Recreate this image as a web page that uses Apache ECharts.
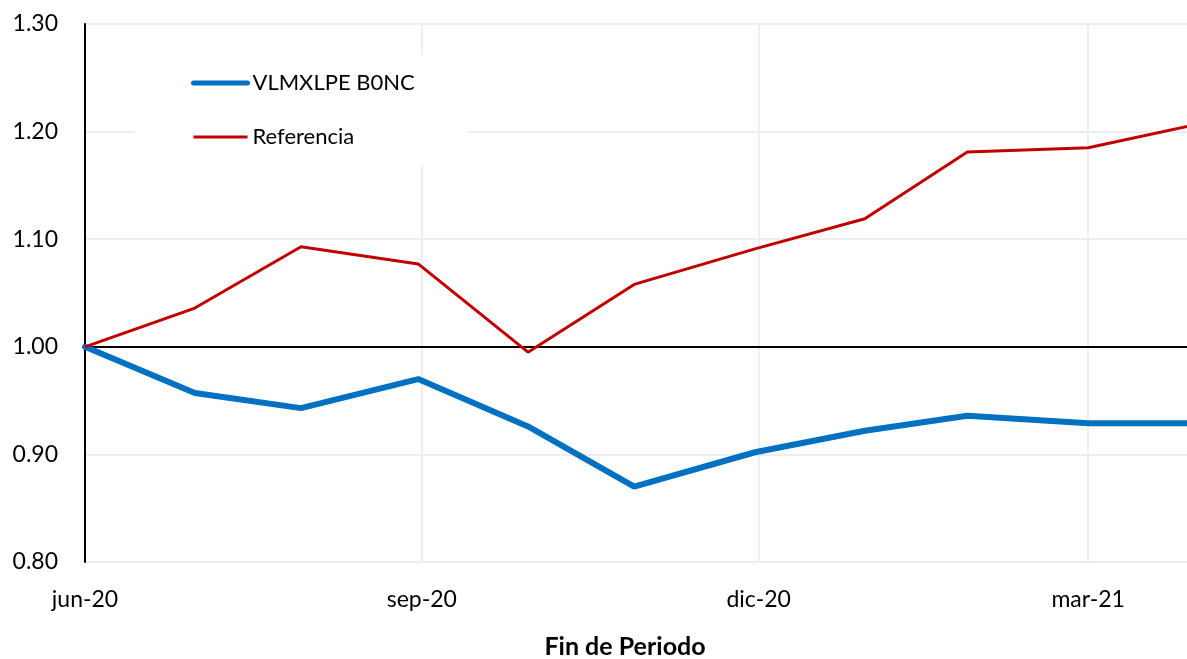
<!DOCTYPE html>
<html>
	<head>
		<meta charset="utf-8" />
		<title>VLMXLPE B0NC vs Referencia</title>
		<script src="https://cdn.jsdelivr.net/npm/echarts@6/dist/echarts.min.js"></script>
		<style>
			html, body { margin: 0; padding: 0; background: #fff; overflow: hidden; }
			#chart { width: 100vw; height: 100vh; }
		</style>
	</head>
	<body>
		<div id="chart"></div>
		<script>
			// fechas de cierre de cada mes
			var fechas = ['2020-06-30', '2020-07-30', '2020-08-28', '2020-09-29', '2020-10-29', '2020-11-27',
				'2020-12-30', '2021-01-29', '2021-02-26', '2021-03-31', '2021-04-30'];
			var fondo = [1.000, 0.957, 0.943, 0.970, 0.926, 0.870, 0.902, 0.922, 0.936, 0.929, 0.929];
			var referencia = [1.000, 1.036, 1.093, 1.077, 0.995, 1.058, 1.091, 1.119, 1.181, 1.185, 1.207];
			var tickFechas = ['2020-06-30', '2020-09-30', '2020-12-31', '2021-03-31'];
			var tickEtiquetas = ['jun-20', 'sep-20', 'dic-20', 'mar-21'];
			// el grafico original esta recortado a la derecha
			var finEje = '2021-04-27';

			var fuente = 'Lato, "Noto Sans", sans-serif';

			// fecha -> milisegundos (eje lineal en el tiempo)
			function ms(f) {
				var p = f.split('-');
				return Date.UTC(+p[0], +p[1] - 1, +p[2]);
			}
			var tickMs = tickFechas.map(ms);

			function etiqueta(v) {
				var i = tickMs.indexOf(v);
				return i >= 0 ? tickEtiquetas[i] : '';
			}

			var chart = echarts.init(document.getElementById('chart'));
			var option = {
				animation: false,
				grid: { left: 85, top: 24, right: 0, bottom: 97, containLabel: false, outerBoundsMode: 'none' },
				legend: {
					orient: 'vertical',
					left: 135,
					top: 55,
					padding: [14, 53, 14, 56],
					backgroundColor: '#fff',
					itemWidth: 54,
					itemHeight: 14,
					itemGap: 26,
					itemStyle: { opacity: 0 },
					textStyle: { fontFamily: fuente, fontSize: 22, color: '#000', lineHeight: 28 },
					data: [
						{ name: 'VLMXLPE B0NC', lineStyle: { width: 5, cap: 'round' } },
						{ name: 'Referencia', lineStyle: { width: 3 } }
					]
				},
				xAxis: {
					type: 'value',
					min: ms(fechas[0]),
					max: ms(finEje),
					name: 'Fin de Periodo',
					nameLocation: 'middle',
					nameGap: 72,
					nameTextStyle: { fontFamily: fuente, fontSize: 25, fontWeight: 'bold', color: '#000', padding: [0, 22, 0, 0] },
					axisLine: { show: false },
					axisTick: { show: false, customValues: tickMs },
					axisLabel: {
						customValues: tickMs,
						formatter: etiqueta,
						margin: 26,
						fontFamily: fuente,
						fontSize: 23,
						color: '#000'
					},
					splitLine: { show: true, lineStyle: { color: '#eeeeee', width: 2 } }
				},
				yAxis: {
					type: 'value',
					min: 0.8,
					max: 1.3,
					interval: 0.1,
					axisLine: { show: true, lineStyle: { color: '#000', width: 2 } },
					axisTick: { show: false },
					axisLabel: {
						margin: 27,
						fontFamily: fuente,
						fontSize: 23,
						color: '#000',
						formatter: function (v) { return v.toFixed(2); }
					},
					splitLine: { show: true, lineStyle: { color: '#eeeeee', width: 2 } }
				},
				series: [
					{
						name: 'VLMXLPE B0NC',
						type: 'line',
						symbol: 'none',
						color: '#0070c0',
						lineStyle: { width: 6, color: '#0070c0', cap: 'round' },
						data: fechas.map(function (f, i) { return [ms(f), fondo[i]]; }),
						markLine: {
							z: 1,
							silent: true,
							symbol: 'none',
							label: { show: false },
							lineStyle: { color: '#000', width: 2, type: 'solid' },
							data: [{ yAxis: 1 }]
						}
					},
					{
						name: 'Referencia',
						type: 'line',
						symbol: 'none',
						color: '#c00000',
						lineStyle: { width: 3, color: '#c00000' },
						data: fechas.map(function (f, i) { return [ms(f), referencia[i]]; })
					}
				]
			};
			chart.setOption(option);
		</script>
	</body>
</html>
